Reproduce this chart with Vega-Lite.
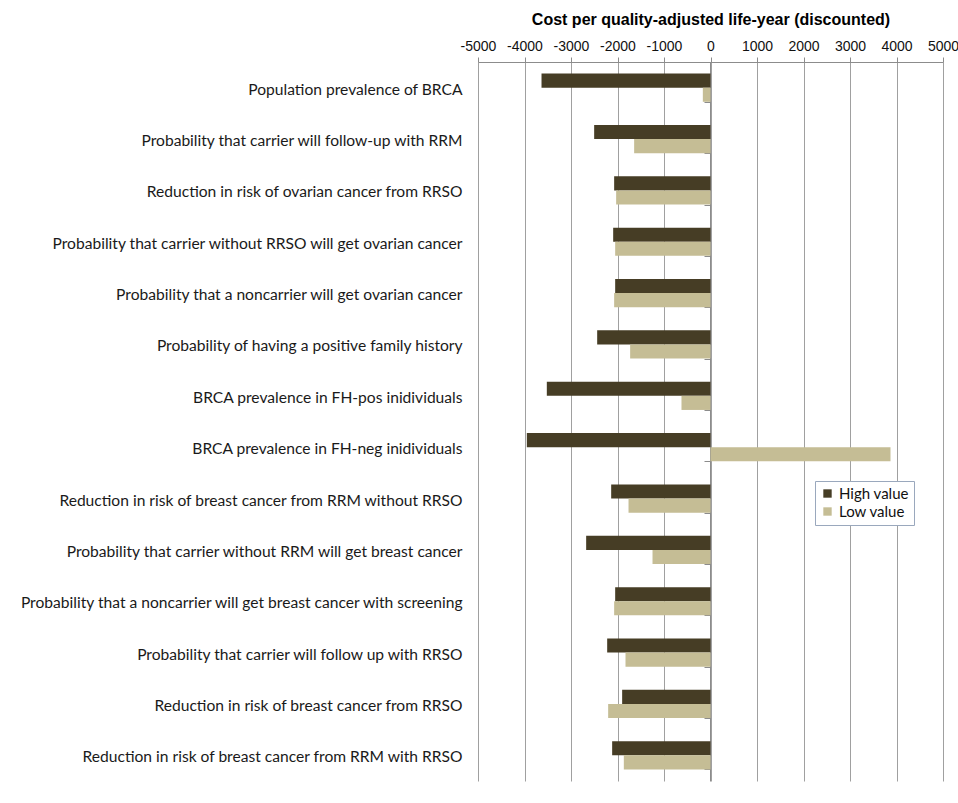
{
  "$schema": "https://vega.github.io/schema/vega-lite/v6.json",
  "autosize": {"type": "none"},
  "padding": {"left": 478, "top": 62, "right": 15, "bottom": 22},
  "width": 465,
  "height": 719,
  "background": "white",
  "config": {"view": {"stroke": null}},
  "data": {"values": [
    {"param": "Population prevalence of BRCA", "level": "High value", "value": -3634},
    {"param": "Population prevalence of BRCA", "level": "Low value", "value": -165},
    {"param": "Probability that carrier will follow-up with RRM", "level": "High value", "value": -2502},
    {"param": "Probability that carrier will follow-up with RRM", "level": "Low value", "value": -1642},
    {"param": "Reduction in risk of ovarian cancer from RRSO", "level": "High value", "value": -2072},
    {"param": "Reduction in risk of ovarian cancer from RRSO", "level": "Low value", "value": -2029},
    {"param": "Probability that carrier without RRSO will get ovarian cancer", "level": "High value", "value": -2093},
    {"param": "Probability that carrier without RRSO will get ovarian cancer", "level": "Low value", "value": -2050},
    {"param": "Probability that a noncarrier will get ovarian cancer", "level": "High value", "value": -2050},
    {"param": "Probability that a noncarrier will get ovarian cancer", "level": "Low value", "value": -2072},
    {"param": "Probability of having a positive family history", "level": "High value", "value": -2437},
    {"param": "Probability of having a positive family history", "level": "Low value", "value": -1728},
    {"param": "BRCA prevalence in FH-pos inidividuals", "level": "High value", "value": -3520},
    {"param": "BRCA prevalence in FH-pos inidividuals", "level": "Low value", "value": -624},
    {"param": "BRCA prevalence in FH-neg inidividuals", "level": "High value", "value": -3950},
    {"param": "BRCA prevalence in FH-neg inidividuals", "level": "Low value", "value": 3871},
    {"param": "Reduction in risk of breast cancer from RRM without RRSO", "level": "High value", "value": -2136},
    {"param": "Reduction in risk of breast cancer from RRM without RRSO", "level": "Low value", "value": -1763},
    {"param": "Probability that carrier without RRM will get breast cancer", "level": "High value", "value": -2674},
    {"param": "Probability that carrier without RRM will get breast cancer", "level": "Low value", "value": -1247},
    {"param": "Probability that a noncarrier will get breast cancer with screening", "level": "High value", "value": -2050},
    {"param": "Probability that a noncarrier will get breast cancer with screening", "level": "Low value", "value": -2072},
    {"param": "Probability that carrier will follow up with RRSO", "level": "High value", "value": -2222},
    {"param": "Probability that carrier will follow up with RRSO", "level": "Low value", "value": -1828},
    {"param": "Reduction in risk of breast cancer from RRSO", "level": "High value", "value": -1900},
    {"param": "Reduction in risk of breast cancer from RRSO", "level": "Low value", "value": -2201},
    {"param": "Reduction in risk of breast cancer from RRM with RRSO", "level": "High value", "value": -2115},
    {"param": "Reduction in risk of breast cancer from RRM with RRSO", "level": "Low value", "value": -1864}
  ]},
  "resolve": {"axis": {"y": "independent"}},
  "layer": [
    {
      "mark": {"type": "bar"},
      "encoding": {
        "y": {
          "field": "param", "type": "nominal", "sort": null,
          "scale": {"paddingInner": 0.45, "paddingOuter": 0.225},
          "axis": {"orient": "left", "title": null, "domain": false, "ticks": false, "labelPadding": 16, "labelLimit": 600, "labelFont": "Lato", "labelFontSize": 15.6, "labelColor": "#1a1a1a", "labelBaseline": "middle", "labelOffset": 2}
        },
        "yOffset": {"field": "level", "type": "nominal", "sort": ["High value", "Low value"], "scale": {"paddingInner": 0, "paddingOuter": 0}},
        "x": {
          "field": "value", "type": "quantitative",
          "scale": {"domain": [-5000, 5000], "nice": false},
          "axis": {
            "orient": "top",
            "title": "Cost per quality-adjusted life-year (discounted)",
            "titleFont": "Liberation Sans", "titleFontSize": 16, "titleFontWeight": "bold", "titleColor": "#000000", "titlePadding": 12,
            "values": [-5000, -4000, -3000, -2000, -1000, 0, 1000, 2000, 3000, 4000, 5000],
            "labelExpr": "datum.value + ''",
            "labelOverlap": false,
            "labelFlush": false,
            "labelFont": "Liberation Sans", "labelFontSize": 14, "labelColor": "#111111", "labelPadding": 4,
            "domainColor": "#8c8c8c", "tickColor": "#8c8c8c", "tickSize": 5,
            "grid": true, "gridColor": "#a0a0a0", "gridWidth": 1
          }
        },
        "color": {
          "field": "level", "type": "nominal",
          "scale": {"domain": ["High value", "Low value"], "range": ["#463d25", "#c5bd95"]},
          "legend": {
            "title": null, "orient": "none", "legendX": 337, "legendY": 419,
            "symbolType": "square", "symbolSize": 70, "symbolStrokeWidth": 0,
            "labelFont": "Lato", "labelFontSize": 15, "labelColor": "#111111",
            "padding": 5, "rowPadding": 2, "strokeColor": "#9aa8bd", "fillColor": "white"
          }
        }
      }
    },
    {
      "mark": {"type": "tick", "opacity": 0},
      "encoding": {
        "y": {
          "field": "param", "type": "nominal", "sort": null,
          "axis": {"orient": "right", "offset": -233, "title": null, "labels": false, "domain": true, "domainColor": "#8c8c8c", "ticks": true, "tickColor": "#8c8c8c", "tickSize": -6, "tickBand": "extent"}
        },
        "x": {"field": "value", "type": "quantitative"}
      }
    }
  ]
}
